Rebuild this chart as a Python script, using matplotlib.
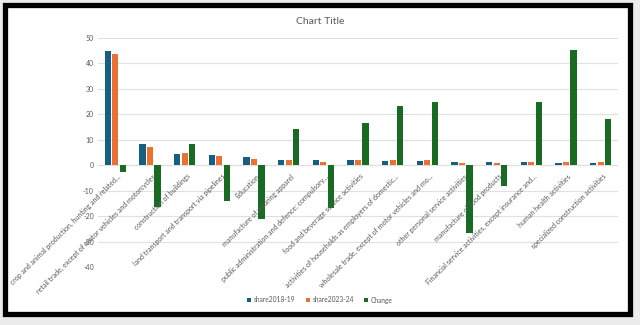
import numpy as np
import matplotlib
matplotlib.use("Agg")
import matplotlib.pyplot as plt
from matplotlib.patches import Rectangle

categories = [
    "crop and animal production, hunting and related...",
    "retail trade, except of motor vehicles and motorcycles",
    "construction of buildings",
    "land transport and transport via pipelines",
    "Education",
    "manufacture of wearing apparel",
    "public administration and defence; compulsory...",
    "food and beverage service activities",
    "activities of households as employers of domestic...",
    "wholesale trade, except of motor vehicles and mo...",
    "other personal service activities",
    "manufacture of food products",
    "Financial service activities, except insurance and...",
    "human health activities",
    "specialized construction activities",
]
share_2018_19 = [45.0, 8.5, 4.6, 4.2, 3.3, 2.0, 1.9, 2.0, 1.6, 1.5, 1.4, 1.1, 1.1, 0.9, 0.9]
share_2023_24 = [43.8, 7.1, 5.0, 3.7, 2.6, 2.1, 1.4, 2.2, 2.1, 2.0, 0.9, 0.9, 1.4, 1.4, 1.3]
change = [-2.8, -16.4, 8.4, -14.0, -21.3, 14.2, -16.7, 16.5, 23.3, 24.7, -26.5, -8.3, 24.8, 45.3, 18.0]
series_names = ["share2018-19", "share2023-24", "Change"]
y_ticks = [-40, -30, -20, -10, 0, 10, 20, 30, 40, 50]

colors = ["#156082", "#E97132", "#196B24"]
text_gray = "#595959"
font = ["Lato", "DejaVu Sans"]

W, H = 640, 325
fig = plt.figure(figsize=(W / 100, H / 100), dpi=100)
fig.patch.set_facecolor("#ececec")

# white panel with a thick black frame
fig.add_artist(Rectangle((5 / W, 1 - 314 / H), 625 / W, 309 / H, transform=fig.transFigure,
                         facecolor="white", edgecolor="black", linewidth=3.8, zorder=0))

ax = fig.add_axes([98 / W, 58 / H, 520 / W, 229 / H])
ax.set_facecolor("none")
x = np.arange(len(categories))
bw = 0.18
step = 0.215
for i, (vals, c, name) in enumerate(zip([share_2018_19, share_2023_24, change], colors, series_names)):
    ax.bar(x + (i - 1) * step, vals, width=bw, color=c, label=name, zorder=3)

ax.set_xlim(-0.5, len(categories) - 0.5)
ax.set_ylim(-40, 50)
ax.set_yticks(y_ticks)
ax.set_yticklabels([str(t) for t in y_ticks], fontsize=5, color=text_gray, family=font)
ax.yaxis.grid(True, color="#e0e0e0", linewidth=0.8, zorder=0)
ax.tick_params(axis="y", length=0, pad=3)
ax.axhline(0, color="#d9d9d9", linewidth=0.8, zorder=1)
for s in ax.spines.values():
    s.set_visible(False)

ax.set_xticks([])
for xi, lab in zip(x, categories):
    ax.text(xi + 0.05, -3.0, lab, rotation=45, rotation_mode="anchor", ha="right", va="top",
            fontsize=5.0, color=text_gray, family=font, zorder=4)

fig.text(0.5, 1 - 22 / H, "Chart Title", ha="center", va="center", fontsize=7.5,
         color=text_gray, family=font)

leg = fig.legend(loc="center", bbox_to_anchor=(0.5, 1 - 300 / H), ncol=3, frameon=False,
                 handlelength=0.55, handleheight=0.55, handletextpad=0.4,
                 columnspacing=1.6, prop={"family": font, "size": 4.8})
for t in leg.get_texts():
    t.set_color(text_gray)

fig.savefig("out.png", dpi=100)
